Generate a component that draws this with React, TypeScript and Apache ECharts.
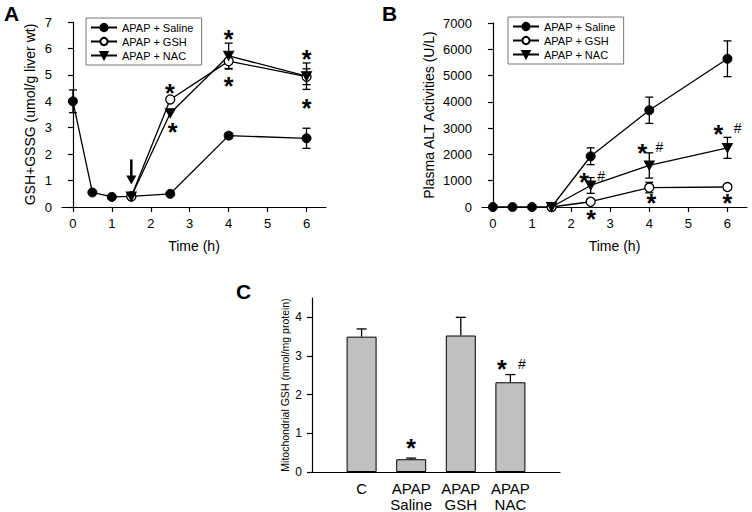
import React, { useEffect, useRef } from "react";
import * as echarts from "echarts";

// ---------- Panel A: GSH+GSSG ----------
const timeSaline = [0, 0.5, 1, 1.5, 2.5, 4, 6];
const timeTreated = [1.5, 2.5, 4, 6];
const aSaline = [4.0, 0.55, 0.38, 0.4, 0.5, 2.7, 2.6];
const aSalineErr = [0.43, 0, 0, 0, 0, 0.1, 0.38];
const aGSH = [0.4, 4.07, 5.52, 4.93];
const aGSHErr = [0, 0, 0.3, 0.3];
const aNAC = [0.4, 3.55, 5.72, 4.95];
const aNACErr = [0, 0, 0.48, 0.5];
const aStars = [[2.49, 4.5], [2.56, 3.03], [4.0, 6.55], [4.0, 4.77], [6.0, 5.8], [6.0, 3.94]];
const aArrow = [1.5, 1.8, 0.85]; // x, from, to

// ---------- Panel B: Plasma ALT ----------
const bSaline = [0, 0, 0, 0, 1930, 3680, 5640];
const bSalineErr = [0, 0, 0, 0, 320, 500, 680];
const bGSH = [0, 200, 740, 760];
const bGSHErr = [0, 0, 200, 0];
const bNAC = [0, 820, 1580, 2250];
const bNACErr = [0, 300, 480, 400];
const bStars = [[2.33, 1140], [3.82, 2245], [5.77, 2967], [2.51, -266], [4.05, 360], [6.0, 350]];
const bHashes = [[2.77, 1180], [4.26, 2280], [6.26, 3000]];

// ---------- Panel C: Mitochondrial GSH ----------
const cCategories = ["C", "APAP\nSaline", "APAP\nGSH", "APAP\nNAC"];
const cValues = [3.5, 0.33, 3.53, 2.32];
const cErr = [0.2, 0.03, 0.47, 0.2];
const cStars = [[2, 0.75], [3.83, 2.8]];
const cHashes = [[4.23, 2.8]];

const xTicks = [0, 1, 2, 3, 4, 5, 6];
const aYTicks = [0, 1, 2, 3, 4, 5, 6, 7];
const bYTicks = [0, 1000, 2000, 3000, 4000, 5000, 6000, 7000];
const cYTicks = [0, 1, 2, 3, 4];
const cXTicks = [1, 2, 3, 4];

const NAMES = ["APAP + Saline", "APAP + GSH", "APAP + NAC"];
const FONT = "Liberation Sans, Arial, sans-serif";
const TRI_DOWN = "path://M0,0 L10,0 L5,9 Z";

function zip(xs: number[], ys: number[], es?: number[]) {
  return xs.map((x, i) => (es ? [x, ys[i], es[i]] : [x, ys[i]]));
}

function errRender(capW: number, upOnly: boolean) {
  return (params: any, api: any) => {
    const x = api.value(0);
    const y = api.value(1);
    const e = api.value(2);
    if (!e) return { type: "group", children: [] };
    const top = api.coord([x, y + e]);
    const bot = api.coord([x, upOnly ? y : y - e]);
    const st = { stroke: "#000", lineWidth: 1.3 };
    const children: any[] = [
      { type: "line", shape: { x1: top[0], y1: top[1], x2: bot[0], y2: bot[1] }, style: st },
      { type: "line", shape: { x1: top[0] - capW / 2, y1: top[1], x2: top[0] + capW / 2, y2: top[1] }, style: st },
    ];
    if (!upOnly)
      children.push({ type: "line", shape: { x1: bot[0] - capW / 2, y1: bot[1], x2: bot[0] + capW / 2, y2: bot[1] }, style: st });
    return { type: "group", children };
  };
}

function lineSeries(name: string, data: any[], idx: number, kind: number) {
  const base: any = {
    name,
    type: "line",
    xAxisIndex: idx,
    yAxisIndex: idx,
    data,
    lineStyle: { color: "#000", width: 1.3 },
    z: 3,
  };
  if (kind === 0) {
    base.symbol = "circle";
    base.symbolSize = 9;
    base.itemStyle = { color: "#000", borderColor: "#000", borderWidth: 1 };
  } else if (kind === 1) {
    base.symbol = "circle";
    base.symbolSize = 9;
    base.itemStyle = { color: "#fff", borderColor: "#000", borderWidth: 1.3 };
  } else {
    base.symbol = TRI_DOWN;
    base.symbolSize = [10, 9];
    base.itemStyle = { color: "#000", borderColor: "#000", borderWidth: 1 };
  }
  return base;
}

function errSeries(data: any[], idx: number, capW: number, upOnly: boolean) {
  return {
    type: "custom",
    xAxisIndex: idx,
    yAxisIndex: idx,
    renderItem: errRender(capW, upOnly),
    data,
    z: 2,
    silent: true,
    clip: false,
  };
}

function textSeries(data: number[][], idx: number, text: string, size: number, dy: number, bold: boolean) {
  return {
    type: "scatter",
    xAxisIndex: idx,
    yAxisIndex: idx,
    data,
    symbolSize: 0,
    silent: true,
    clip: false,
    z: 5,
    itemStyle: { color: "#000", opacity: 1 },
    label: {
      show: true,
      position: "inside",
      formatter: text,
      fontSize: size,
      lineHeight: bold ? 14 : size,
      fontWeight: bold ? "bold" : "normal",
      fontFamily: FONT,
      color: "#000",
      opacity: 1,
      textBorderWidth: 0,
      offset: [0, dy],
    },
  };
}

const axisLine = { show: true, lineStyle: { color: "#000", width: 1.2 } };
const tickStyle = { show: true, length: 5, lineStyle: { color: "#000", width: 1.2 } };

export default function App() {
  const ref = useRef<HTMLDivElement>(null);
  useEffect(() => {
    if (!ref.current) return;
    const chart = echarts.init(ref.current, null, { renderer: "svg" });
    const legendCommon = {
      orient: "vertical",
      data: NAMES,
      borderColor: "#777",
      borderWidth: 1,
      padding: [4, 8, 4, 4],
      itemGap: 3,
      itemWidth: 26,
      itemHeight: 9,
      textStyle: { fontSize: 11, fontFamily: FONT, color: "#000" },
      selectedMode: false,
    };
    const option: any = {
      animation: false,
      textStyle: { fontFamily: FONT },
      legend: [
        { ...legendCommon, left: 86, top: 18 },
        { ...legendCommon, left: 508, top: 17 },
      ],
      grid: [
        { left: 62, top: 22, width: 264, height: 185 },
        { left: 482, top: 23, width: 265, height: 184 },
        { left: 312, top: 298, width: 248, height: 174 },
      ],
      xAxis: [0, 1].map((i) => ({
        type: "value",
        gridIndex: i,
        min: -0.28,
        max: 6.5,
        name: "Time (h)",
        nameLocation: "middle",
        nameGap: 32,
        nameTextStyle: { fontSize: 14, color: "#000", fontFamily: FONT },
        axisLine,
        axisTick: { ...tickStyle, customValues: xTicks },
        axisLabel: { customValues: xTicks, fontSize: 13, color: "#000", margin: 10, fontFamily: FONT },
        splitLine: { show: false },
      })).concat([
        {
          type: "value",
          gridIndex: 2,
          min: 0,
          max: 5,
          axisLine,
          axisTick: { show: false },
          axisLabel: {
            customValues: cXTicks,
            formatter: (v: number) => cCategories[Math.round(v) - 1] || "",
            fontSize: 15,
            lineHeight: 16,
            color: "#000",
            margin: 8,
            fontFamily: FONT,
          },
          splitLine: { show: false },
        } as any,
      ]),
      yAxis: [
        {
          type: "value",
          gridIndex: 0,
          min: 0,
          max: 7,
          name: "GSH+GSSG (umol/g liver wt)",
          nameLocation: "middle",
          nameGap: 25,
          nameTextStyle: { fontSize: 14, color: "#000", fontFamily: FONT },
          axisLine,
          axisTick: { ...tickStyle, customValues: aYTicks },
          axisLabel: { customValues: aYTicks, fontSize: 13, color: "#000", margin: 10, fontFamily: FONT },
          splitLine: { show: false },
        },
        {
          type: "value",
          gridIndex: 1,
          min: 0,
          max: 7000,
          name: "Plasma ALT Activities (U/L)",
          nameLocation: "middle",
          nameGap: 46,
          nameTextStyle: { fontSize: 14, color: "#000", fontFamily: FONT },
          axisLine,
          axisTick: { ...tickStyle, customValues: bYTicks },
          axisLabel: {
            customValues: bYTicks,
            formatter: (v: number) => String(v),
            fontSize: 13,
            color: "#000",
            margin: 10,
            fontFamily: FONT,
          },
          splitLine: { show: false },
        },
        {
          type: "value",
          gridIndex: 2,
          min: 0,
          max: 4.5,
          name: "Mitochondrial GSH (nmol/mg protein)",
          nameLocation: "middle",
          nameGap: 22,
          nameTextStyle: { fontSize: 10.5, color: "#000", fontFamily: FONT },
          axisLine,
          axisTick: { ...tickStyle, customValues: cYTicks },
          axisLabel: { customValues: cYTicks, fontSize: 12, color: "#000", margin: 10, fontFamily: FONT },
          splitLine: { show: false },
        },
      ],
      series: [
        // Panel A
        errSeries(zip(timeSaline, aSaline, aSalineErr), 0, 8, false),
        errSeries(zip(timeTreated, aGSH, aGSHErr), 0, 8, false),
        errSeries(zip(timeTreated, aNAC, aNACErr), 0, 8, false),
        lineSeries(NAMES[0], zip(timeSaline, aSaline), 0, 0),
        lineSeries(NAMES[1], zip(timeTreated, aGSH), 0, 1),
        lineSeries(NAMES[2], zip(timeTreated, aNAC), 0, 2),
        textSeries(aStars, 0, "*", 25, 5, true),
        {
          type: "custom",
          xAxisIndex: 0,
          yAxisIndex: 0,
          silent: true,
          z: 6,
          data: [aArrow],
          renderItem: (params: any, api: any) => {
            const x = api.value(0);
            const p1 = api.coord([x, api.value(1)]);
            const p2 = api.coord([x, api.value(2)]);
            return {
              type: "group",
              children: [
                { type: "line", shape: { x1: p1[0], y1: p1[1], x2: p2[0], y2: p2[1] - 7 }, style: { stroke: "#000", lineWidth: 2.5 } },
                {
                  type: "polygon",
                  shape: { points: [[p2[0] - 5, p2[1] - 9], [p2[0] + 5, p2[1] - 9], [p2[0], p2[1]]] },
                  style: { fill: "#000" },
                },
              ],
            };
          },
        },
        // Panel B
        errSeries(zip(timeSaline, bSaline, bSalineErr), 1, 8, false),
        errSeries(zip(timeTreated, bGSH, bGSHErr), 1, 8, false),
        errSeries(zip(timeTreated, bNAC, bNACErr), 1, 8, false),
        lineSeries(NAMES[0], zip(timeSaline, bSaline), 1, 0),
        lineSeries(NAMES[1], zip(timeTreated, bGSH), 1, 1),
        lineSeries(NAMES[2], zip(timeTreated, bNAC), 1, 2),
        textSeries(bStars, 1, "*", 25, 5, true),
        textSeries(bHashes, 1, "#", 14, 0, false),
        // Panel C
        errSeries(zip(cXTicks, cValues, cErr), 2, 10, true),
        {
          type: "bar",
          xAxisIndex: 2,
          yAxisIndex: 2,
          data: zip(cXTicks, cValues),
          barWidth: 30,
          itemStyle: { color: "#c0c0c0", borderColor: "#000", borderWidth: 1 },
          z: 3,
          silent: true,
        },
        textSeries(cStars, 2, "*", 25, 5, true),
        textSeries(cHashes, 2, "#", 14, 0, false),
      ],
      graphic: [
        { type: "text", left: 4, top: 3, style: { text: "A", fontSize: 21, fontWeight: "bold", fontFamily: FONT, fill: "#000" } },
        { type: "text", left: 382, top: 3, style: { text: "B", fontSize: 21, fontWeight: "bold", fontFamily: FONT, fill: "#000" } },
        { type: "text", left: 236, top: 281, style: { text: "C", fontSize: 21, fontWeight: "bold", fontFamily: FONT, fill: "#000" } },
      ],
    };
    chart.setOption(option);
    return () => chart.dispose();
  }, []);
  return (
    <div
      ref={ref}
      style={{ position: "fixed", left: 0, top: 0, width: 752, height: 512, background: "#fff" }}
    />
  );
}
